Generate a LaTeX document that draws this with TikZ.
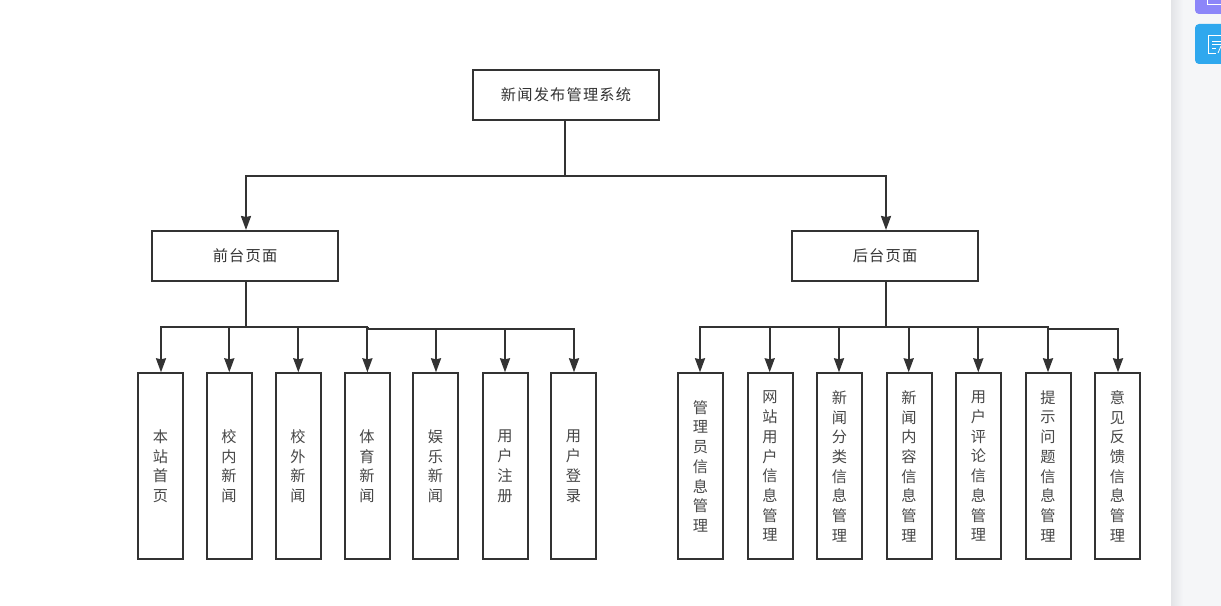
\documentclass[tikz,border=0pt]{standalone}
\usepackage{fontspec}
\newfontfamily\cjkfont[LetterSpace=8]{Noto Sans CJK SC}
\newfontfamily\cjkplain{Noto Sans CJK SC}
\definecolor{boxink}{HTML}{333333}
\definecolor{sidebg}{HTML}{F5F6F8}
\definecolor{sideedge}{HTML}{E3E4E7}
\definecolor{btnpurple}{HTML}{8C86F9}
\definecolor{btnblue}{HTML}{2FA8EE}
\usetikzlibrary{arrows.meta}
\tikzset{
  wide/.style={draw=boxink, line width=1.5pt, fill=white, minimum width=139.5pt, minimum height=37.5pt, inner sep=0pt,
    text=boxink, font=\cjkfont\fontsize{11.4pt}{14pt}\selectfont},
  tall/.style={draw=boxink, line width=1.5pt, fill=white, minimum width=33.75pt, minimum height=139.5pt, inner sep=0pt,
    text=boxink!90, align=center, font=\cjkplain\fontsize{11.4pt}{14.8pt}\selectfont},
  link/.style={draw=boxink, line width=1.5pt},
  linkarrow/.style={link, -{Stealth[length=10.5pt,width=7.5pt,inset=0.8pt]}},
}

\begin{document}
\begin{tikzpicture}[x=0.75pt,y=-0.75pt]
  \useasboundingbox (0,0) rectangle (1221,606);
  \fill[white] (0,0) rectangle (1221,606);

  % Side panel
  \begin{scope}
    \clip (0,0) rectangle (1221,606);
    \fill[sidebg] (1171,0) rectangle (1221,606);
    \shade[left color=sideedge, right color=sidebg] (1171,0) rectangle (1183,606);
    \fill[btnpurple, rounded corners=3pt] (1195,-30) rectangle (1240,14);
    \draw[white, line width=0.6pt] (1207.5,-6) -- (1207.5,4) -- (1221,4);
    \fill[btnblue, rounded corners=3pt] (1195,24) rectangle (1240,64);
    \draw[white, line width=0.6pt] (1221,35) -- (1208,35) -- (1208,53) -- (1216,53);
    \draw[white, line width=0.6pt] (1212,41) -- (1221,41) (1212,44.5) -- (1221,44.5) (1212,48) -- (1216,48);
    \draw[white, line width=0.6pt] (1218,53) -- (1221,46);
  \end{scope}

  % Top levels
  \node[wide] (sys) at (566,95) {新闻发布管理系统};
  \node[wide] (front) at (245,256) {前台页面};
  \node[wide] (back) at (885,256) {后台页面};

  \coordinate (topjoin) at (565.3,175.7);
  \coordinate (frontjoin) at (246,327.3);
  \coordinate (frontstep) at (367.5,329);
  \coordinate (backjoin) at (886,327.3);
  \coordinate (backstep) at (1048,329);

  \draw[link] (sys.south -| topjoin) -- (topjoin);
  \draw[linkarrow] (topjoin) -| (front.north -| frontjoin);
  \draw[linkarrow] (topjoin) -| (back.north -| backjoin);
  \draw[link] (front.south -| frontjoin) -- (frontjoin);
  \draw[link] (back.south -| backjoin) -- (backjoin);
  \draw[link] (frontstep |- frontjoin) -- (frontstep);
  \draw[link] (backstep |- backjoin) -- (backstep);

  % Front pages
  \foreach \name/\xpos/\tipx/\from/\txt in {
    fronta/160.5/161/frontjoin/{本\\站\\首\\页},
    frontb/229/229.3/frontjoin/{校\\内\\新\\闻},
    frontc/298/298.3/frontjoin/{校\\外\\新\\闻},
    frontd/367/367.4/frontjoin/{体\\育\\新\\闻},
    fronte/435.5/436/frontstep/{娱\\乐\\新\\闻},
    frontf/505/505/frontstep/{用\\户\\注\\册},
    frontg/573.5/574/frontstep/{用\\户\\登\\录}}
  {
    \node[tall] (\name) at (\xpos,466.3) {\txt};
    \draw[linkarrow] (\from) -| (\name.north -| \tipx,0);
  }

  % Back pages
  \foreach \name/\xpos/\tipx/\from/\txt in {
    backa/700.5/700/backjoin/{管\\理\\员\\信\\息\\管\\理},
    backb/770/769.7/backjoin/{网\\站\\用\\户\\信\\息\\管\\理},
    backc/839.5/839/backjoin/{新\\闻\\分\\类\\信\\息\\管\\理},
    backd/909/908.7/backjoin/{新\\闻\\内\\容\\信\\息\\管\\理},
    backe/978.5/978.3/backjoin/{用\\户\\评\\论\\信\\息\\管\\理},
    backf/1048/1048/backjoin/{提\\示\\问\\题\\信\\息\\管\\理},
    backg/1117.5/1118/backstep/{意\\见\\反\\馈\\信\\息\\管\\理}}
  {
    \node[tall] (\name) at (\xpos,466.3) {\txt};
    \draw[linkarrow] (\from) -| (\name.north -| \tipx,0);
  }
\end{tikzpicture}
\end{document}
